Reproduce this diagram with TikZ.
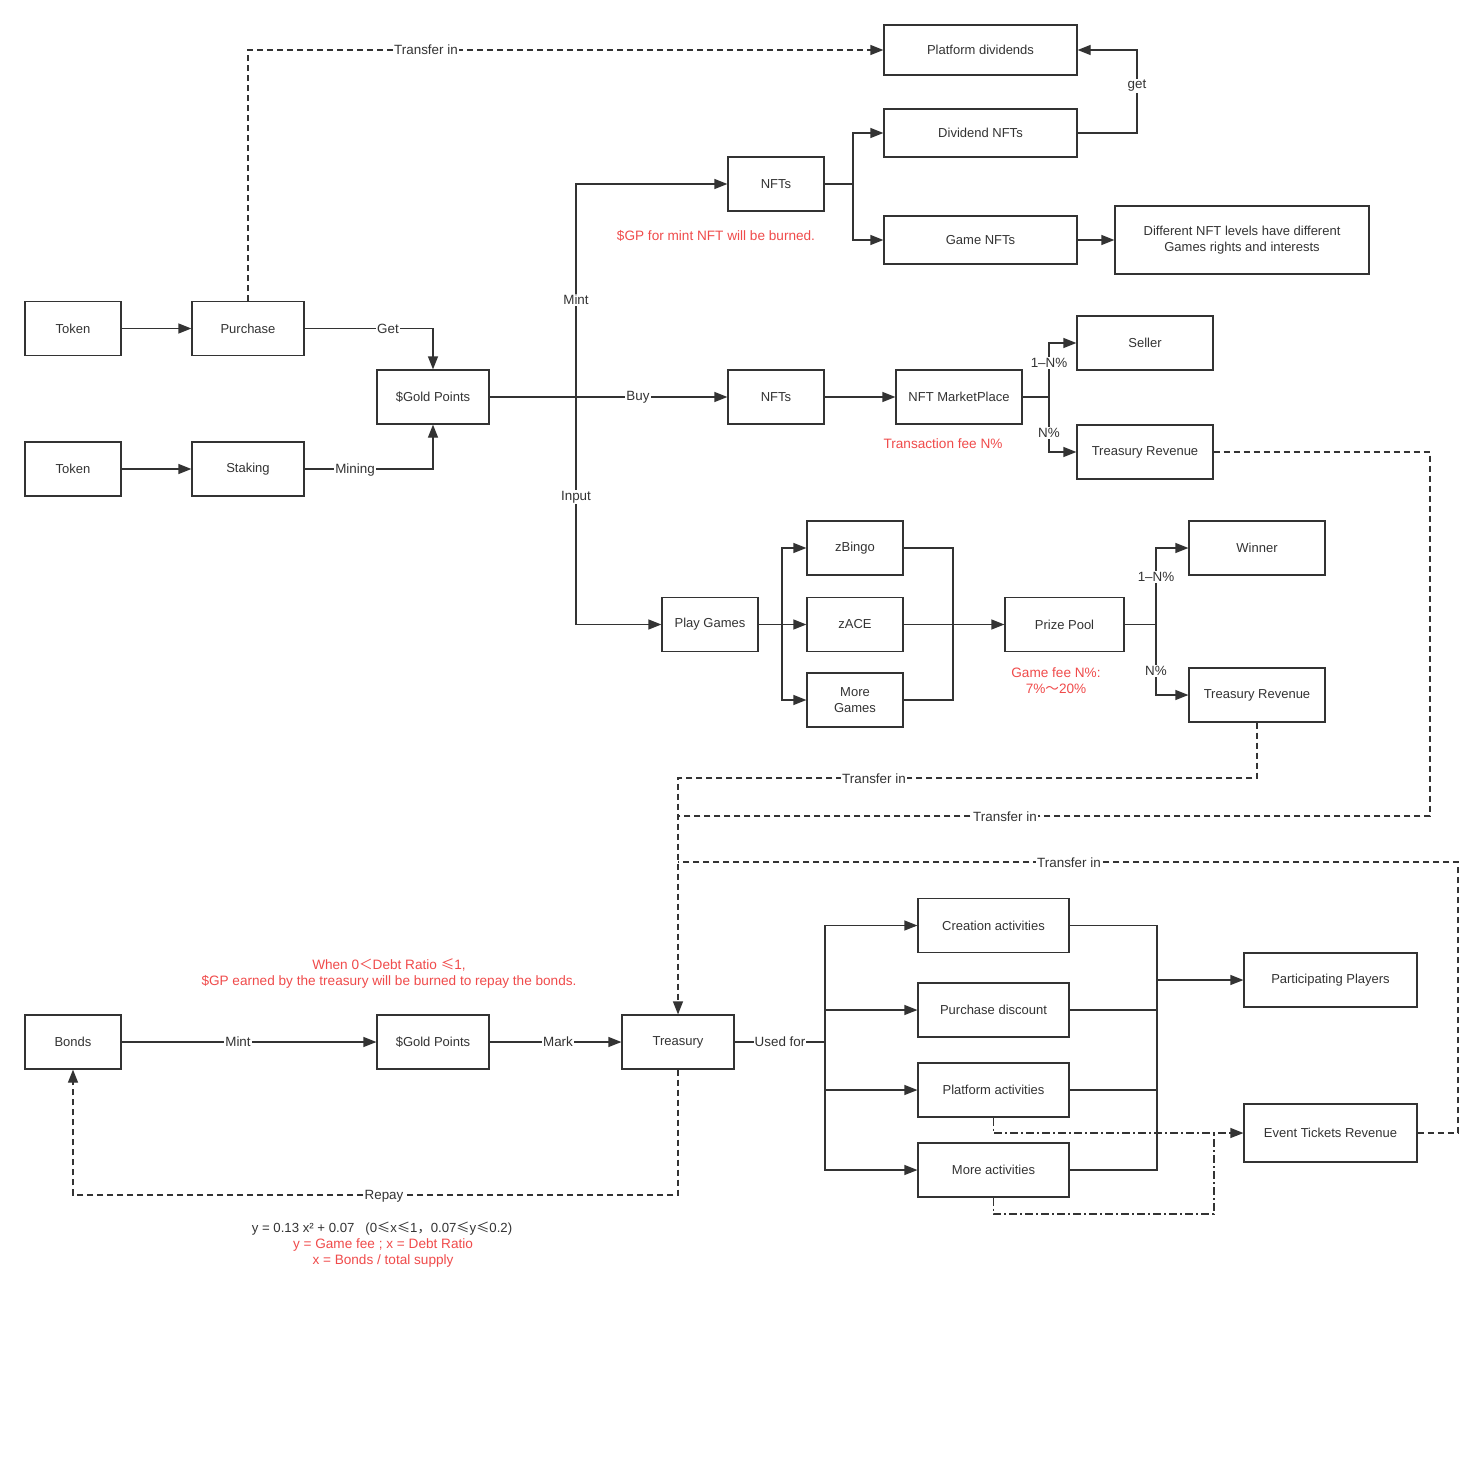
\documentclass[tikz,border=0pt]{standalone}
\usepackage{fontspec}
\setmainfont{Liberation Sans}
\newfontfamily\cjk{Noto Sans CJK SC}
\usetikzlibrary{arrows.meta}
\definecolor{linec}{HTML}{333333}
\definecolor{txt}{HTML}{333333}
\definecolor{redt}{HTML}{F04B4B}
\begin{document}
\begin{tikzpicture}[x=1pt,y=-1pt,
  font=\fontsize{13}{16}\selectfont, text=txt,
  box/.style={draw=linec,line width=1.2pt,minimum width=#1,minimum height=54pt,inner sep=0pt,align=center},
  conn/.style={draw=linec,line width=1.2pt},
  arr/.style={conn,-{Triangle[length=13pt,width=10pt]}},
  dsh/.style={dash pattern=on 6pt off 4pt},
  dd/.style={dash pattern=on 8pt off 3pt on 2pt off 3pt},
  lbl/.style={fill=white,inner sep=1pt,text=txt,font=\fontsize{13.4}{16}\selectfont},
  note/.style={text=redt,align=center,inner sep=0pt,font=\fontsize{13.6}{16}\selectfont}]
\useasboundingbox[fill=white] (0,0) rectangle (1483,1480);

% nodes
\node[box=96] (tok1) at (73,328.5) {Token};
\node[box=112] (pur) at (248,328.5) {Purchase};
\node[box=96] (tok2) at (73,469) {Token};
\node[box=112] (stk) at (248,469) {Staking};
\node[box=112] (gp1) at (433,397) {\$Gold Points};
\node[box=96] (nft1) at (776,184) {NFTs};
\node[box=96] (nft2) at (776,397) {NFTs};
\node[box=193,minimum height=50pt] (pdiv) at (980.5,50) {Platform dividends};
\node[box=193,minimum height=48pt] (dnft) at (980.5,133) {Dividend NFTs};
\node[box=193,minimum height=48pt] (gnft) at (980.5,240) {Game NFTs};
\node[box=254,minimum height=68pt] (diff) at (1242,240) {Different NFT levels have different\\Games rights and interests};
\node[box=126] (mkt) at (959,397) {NFT MarketPlace};
\node[box=136] (sel) at (1145,343) {Seller};
\node[box=136] (tr1) at (1145,452) {Treasury Revenue};
\node[box=96] (play) at (710,624.5) {Play Games};
\node[box=96] (zb) at (855,548) {zBingo};
\node[box=96] (za) at (855,624.5) {zACE};
\node[box=96] (mg) at (855,700) {More\\Games};
\node[box=119] (pool) at (1064.5,624.5) {Prize Pool};
\node[box=136] (win) at (1257,548) {Winner};
\node[box=136] (tr2) at (1257,695) {Treasury Revenue};
\node[box=96] (bonds) at (73,1042) {Bonds};
\node[box=112] (gp2) at (433,1042) {\$Gold Points};
\node[box=112] (trs) at (678,1042) {Treasury};
\node[box=151] (cre) at (993.5,925.5) {Creation activities};
\node[box=151] (pdc) at (993.5,1010) {Purchase discount};
\node[box=151] (pla) at (993.5,1090) {Platform activities};
\node[box=151] (mac) at (993.5,1170) {More activities};
\node[box=173] (pp) at (1330.5,980) {Participating Players};
\node[box=173,minimum height=58pt] (etr) at (1330.5,1133) {Event Tickets Revenue};

% junction coordinates
\coordinate (j1) at (576,397);
\coordinate (j2) at (853,184);
\coordinate (g1) at (1137,133);
\coordinate (j3) at (1049,397);
\coordinate (j4) at (782,624.5);
\coordinate (j5) at (953,624.5);
\coordinate (j6) at (1156,624.5);
\coordinate (t1) at (1430,816);
\coordinate (t2) at (1458,862);
\coordinate (c778) at (678,778);
\coordinate (c816) at (678,816);
\coordinate (c862) at (678,862);
\coordinate (r1) at (678,1195);
\coordinate (u1) at (825,1042);
\coordinate (v1) at (1157,980);
\coordinate (w1) at (1214,1214);
\coordinate (w2) at (1214,1133);

% connectors
\draw[arr] (tok1) -- (pur);
\draw[arr] (tok2) -- (stk);
\draw[arr] (pur.east) -| (gp1.north);
\draw[arr] (stk.east) -| (gp1.south);
\draw[arr,dsh] (pur.north) |- (pdiv.west);
\draw[arr] (gp1.east) -- (nft2.west);
\draw[arr] (j1) |- (nft1.west);
\draw[arr] (j1) |- (play.west);
\draw[conn] (nft1.east) -- (j2);
\draw[arr] (j2) |- (dnft.west);
\draw[arr] (j2) |- (gnft.west);
\draw[arr] (dnft.east) -- (g1) |- (pdiv.east);
\draw[arr] (gnft) -- (diff);
\draw[arr] (nft2) -- (mkt);
\draw[conn] (mkt.east) -- (j3);
\draw[arr] (j3) |- (sel.west);
\draw[arr] (j3) |- (tr1.west);
\draw[arr] (play) -- (za);
\draw[arr] (j4) |- (zb.west);
\draw[arr] (j4) |- (mg.west);
\draw[conn] (zb.east) -| (j5);
\draw[conn] (mg.east) -| (j5);
\draw[arr] (za) -- (pool);
\draw[conn] (pool.east) -- (j6);
\draw[arr] (j6) |- (win.west);
\draw[arr] (j6) |- (tr2.west);

\draw[arr,dsh] (tr2.south) |- (c778) -- (trs.north);
\draw[conn,dsh] (tr1.east) -| (t1) -- (c816);
\draw[conn,dsh] (etr.east) -| (t2) -- (c862);

\draw[arr] (bonds) -- (gp2);
\draw[arr] (gp2) -- (trs);
\draw[arr,dsh] (trs.south) -- (r1) -| (bonds.south);

\draw[conn] (trs.east) -- (u1);
\draw[arr] (u1) |- (cre.west);
\draw[arr] (u1) |- (pdc.west);
\draw[arr] (u1) |- (pla.west);
\draw[arr] (u1) |- (mac.west);
\draw[conn] (cre.east) -| (v1);
\draw[conn] (pdc.east) -| (v1);
\draw[conn] (pla.east) -| (v1);
\draw[conn] (mac.east) -| (v1);
\draw[arr] (v1) -- (pp.west);

\draw[arr,dd] (pla.south) |- (etr.west);
\draw[conn,dd] (mac.south) |- (w1) -- (w2);

% connector labels
\node[lbl] (l1) at (426,50) {Transfer in};
\node[lbl] (l2) at (388,329) {Get};
\node[lbl] (l3) at (355,470) {Mining};
\node[lbl] (l4) at (576,300) {Mint};
\node[lbl] (l5) at (638,397) {Buy};
\node[lbl] (l6) at (576,497) {Input};
\node[lbl] (l7) at (1137,86) {get};
\node[lbl] (l8) at (1049,363) {1–N\%};
\node[lbl] (l9) at (1049,433) {N\%};
\node[lbl] (l10) at (1156,577) {1–N\%};
\node[lbl] (l11) at (1156,671) {N\%};
\node[lbl] (l12) at (874,779) {Transfer in};
\node[lbl] (l13) at (1005,817) {Transfer in};
\node[lbl] (l14) at (1069,863) {Transfer in};
\node[lbl] (l15) at (238,1042) {Mint};
\node[lbl] (l16) at (558,1042) {Mark};
\node[lbl] (l17) at (780,1042) {Used for};
\node[lbl] (l18) at (384,1196) {Repay};

% notes
\node[note] (n1) at (716,236) {\$GP for mint NFT will be burned.};
\node[note] (n2) at (943,444) {Transaction fee N\%};
\node[note] (n3) at (1056,681) {Game fee N\%:\\7\%{\cjk ～}20\%};
\node[note] (n4) at (389,974) {When 0{\cjk ＜}Debt Ratio {\cjk ≤}1,\\\$GP earned by the treasury will be burned to repay the bonds.};
\node[text=txt,inner sep=0pt,font=\fontsize{13.2}{16}\selectfont] (f1) at (382,1229) {y = 0.13 x² + 0.07 \ \ (0{\cjk ≤}x{\cjk ≤}1{\cjk ，}0.07{\cjk ≤}y{\cjk ≤}0.2)};
\node[note] (f2) at (383,1253) {y = Game fee ; x = Debt Ratio\\x = Bonds / total supply};
\end{tikzpicture}
\end{document}
